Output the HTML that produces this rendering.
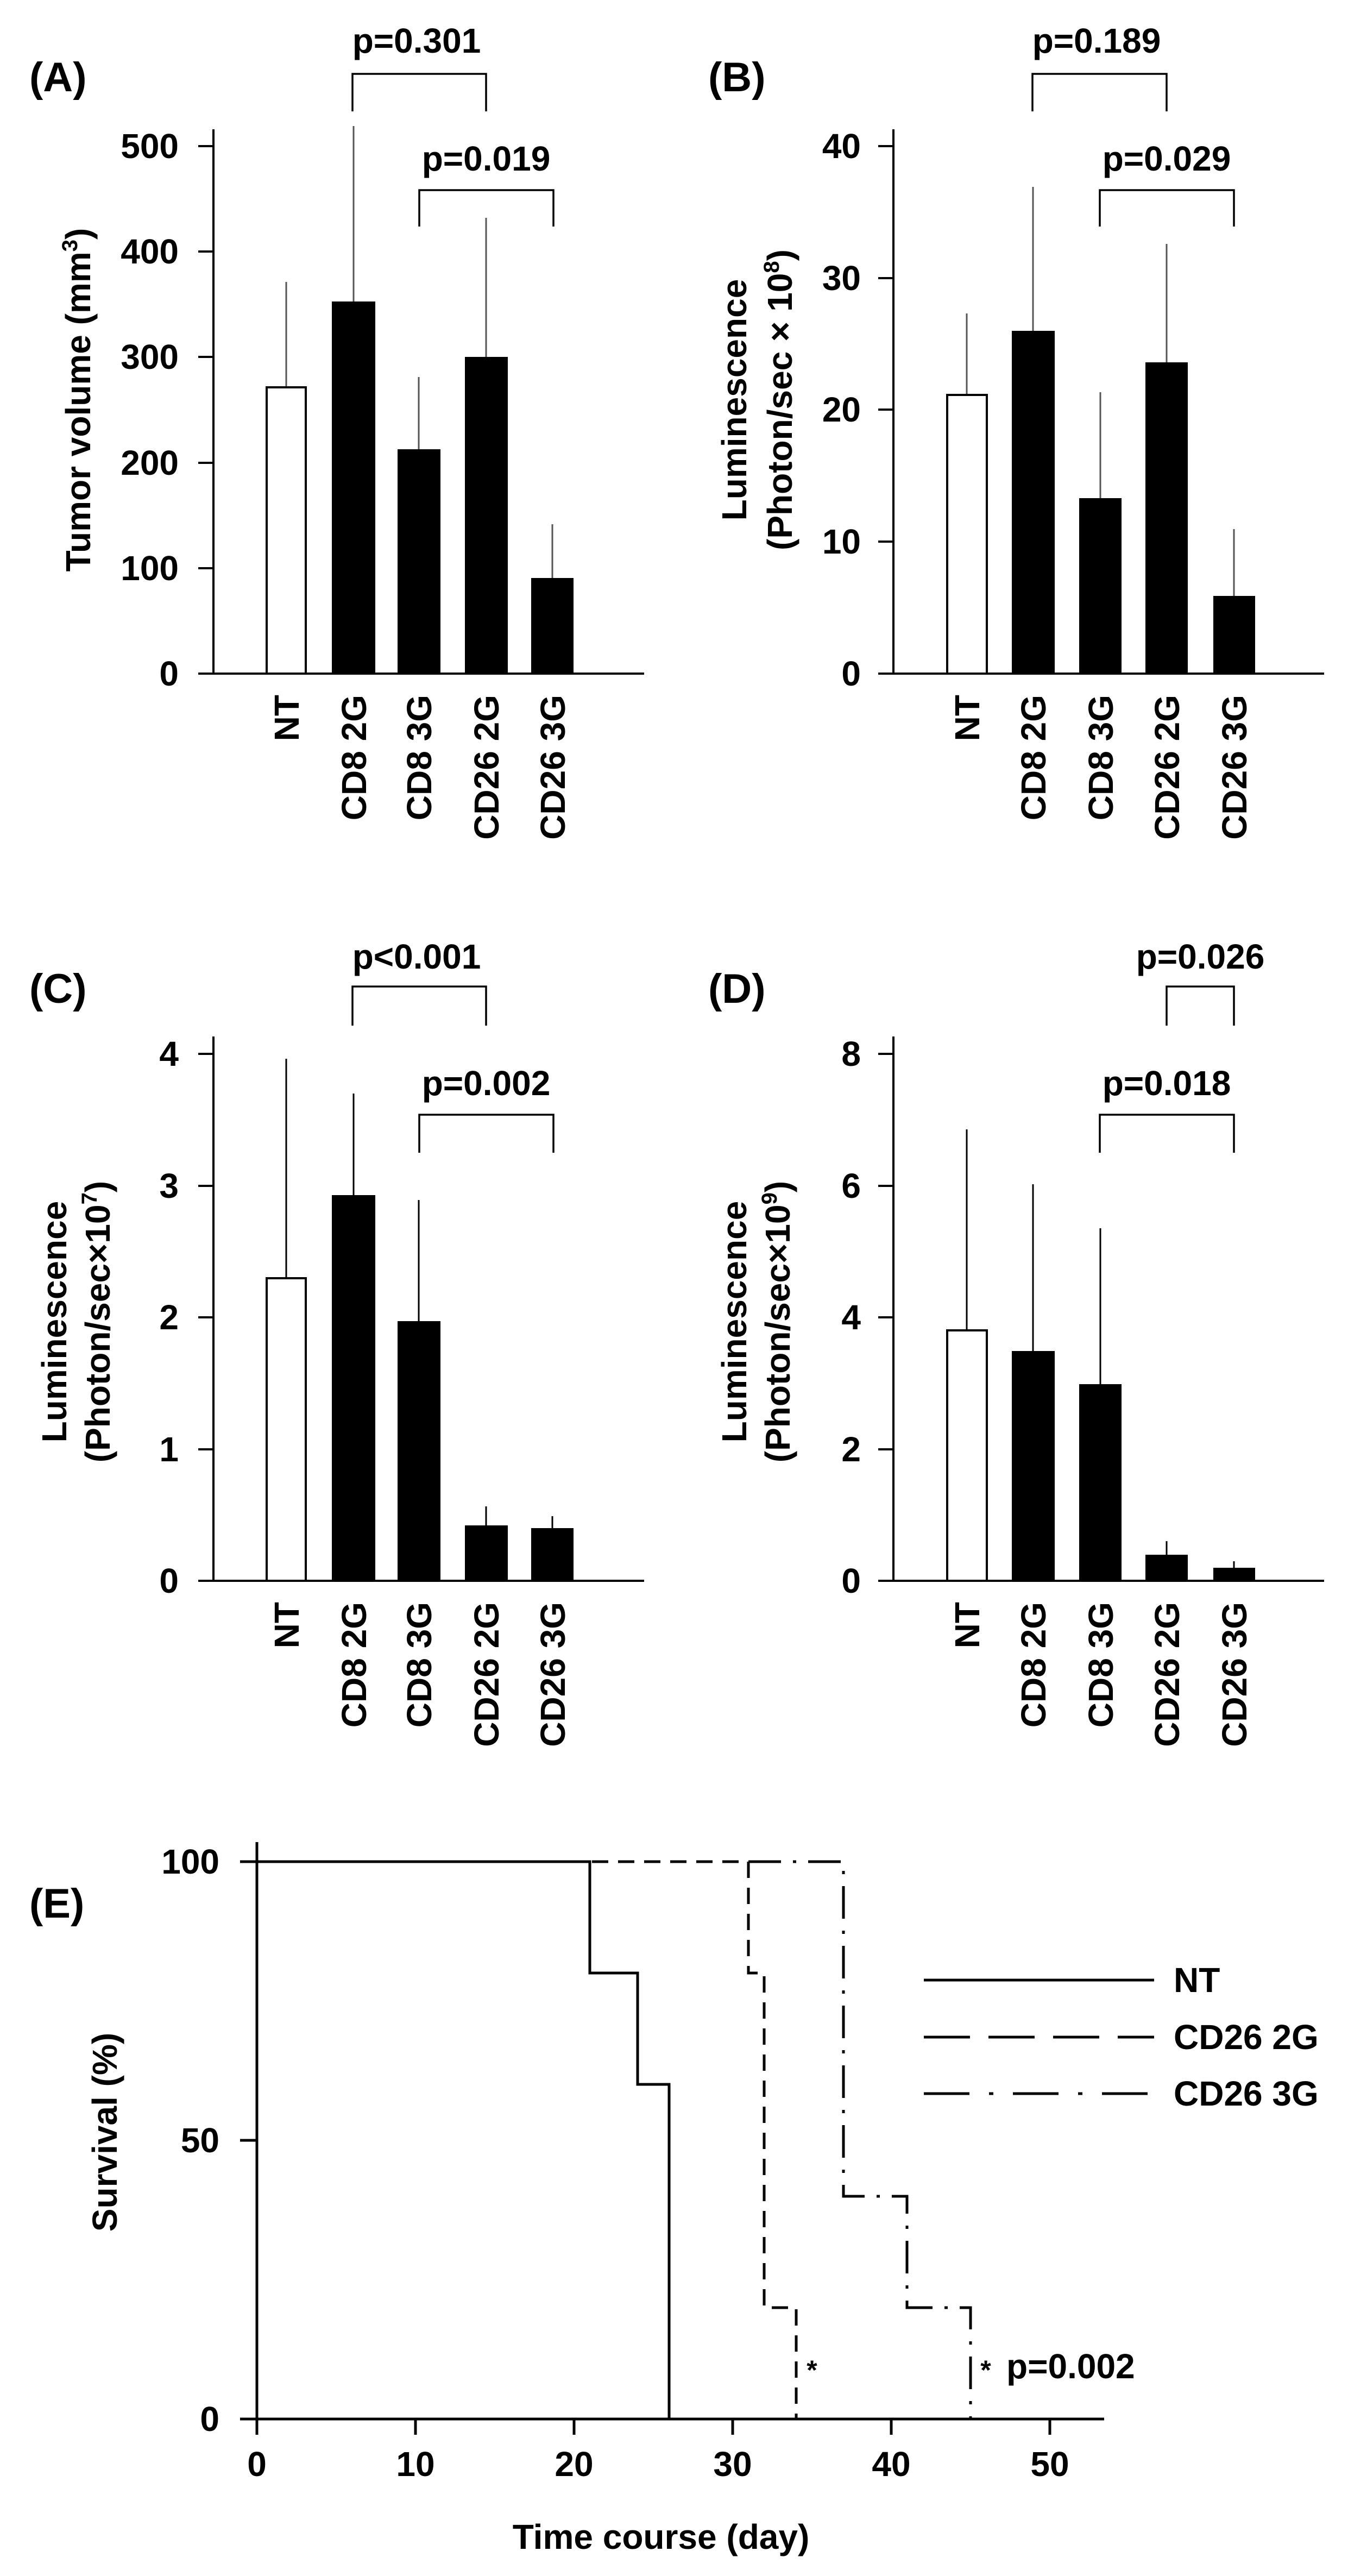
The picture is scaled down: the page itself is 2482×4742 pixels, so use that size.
<!DOCTYPE html>
<html><head><meta charset="utf-8"><style>
html,body{margin:0;padding:0;background:#fff;}
svg{display:block;}
text{font-family:"Liberation Sans",Arial,sans-serif;font-weight:bold;fill:#000;}
</style></head><body>
<svg width="2482" height="4742" viewBox="0 0 2482 4742" xmlns="http://www.w3.org/2000/svg">
<g font-size="64">
<!-- ===== Panel A ===== -->
<text x="54" y="168" font-size="76">(A)</text>
<g stroke="#000" stroke-width="4" fill="none">
<line x1="393" y1="238" x2="393" y2="1242"/>
<line x1="391" y1="1240" x2="1186" y2="1240"/>
<line x1="365" y1="1240" x2="393" y2="1240"/><line x1="365" y1="1046" x2="393" y2="1046"/><line x1="365" y1="852" x2="393" y2="852"/><line x1="365" y1="657" x2="393" y2="657"/><line x1="365" y1="463" x2="393" y2="463"/><line x1="365" y1="269" x2="393" y2="269"/>
<polyline points="649,205 649,136 895,136 895,205" stroke-width="3.5"/>
<polyline points="772,417 772,350 1019,350 1019,417" stroke-width="3.5"/>
</g>
<g text-anchor="end"><text x="329" y="1262">0</text><text x="329" y="1068">100</text><text x="329" y="874">200</text><text x="329" y="679">300</text><text x="329" y="485">400</text><text x="329" y="291">500</text></g>
<text x="767" y="97" text-anchor="middle">p=0.301</text>
<text x="895" y="314" text-anchor="middle">p=0.019</text>
<text transform="translate(166,736) rotate(-90)" text-anchor="middle">Tumor volume (mm<tspan font-size="40" dy="-24">3</tspan><tspan dy="24">)</tspan></text>
<g stroke="#555" stroke-width="3"><line x1="527" y1="519" x2="527" y2="711"/><line x1="651" y1="232" x2="651" y2="555"/><line x1="771" y1="694" x2="771" y2="827"/><line x1="895" y1="401" x2="895" y2="657"/><line x1="1017" y1="965" x2="1017" y2="1064"/></g>
<rect x="491" y="713" width="72" height="527" fill="#fff" stroke="#000" stroke-width="4"/>
<rect x="611" y="555" width="80" height="685"/><rect x="732" y="827" width="79" height="413"/><rect x="856" y="657" width="79" height="583"/><rect x="978" y="1064" width="78" height="176"/>
<g text-anchor="end"><text transform="translate(550,1279) rotate(-90)">NT</text><text transform="translate(674,1279) rotate(-90)">CD8 2G</text><text transform="translate(794,1279) rotate(-90)">CD8 3G</text><text transform="translate(918,1279) rotate(-90)">CD26 2G</text><text transform="translate(1040,1279) rotate(-90)">CD26 3G</text></g>

<!-- ===== Panel B ===== -->
<text x="1304" y="168" font-size="76">(B)</text>
<g stroke="#000" stroke-width="4" fill="none">
<line x1="1645" y1="238" x2="1645" y2="1242"/>
<line x1="1643" y1="1240" x2="2438" y2="1240"/>
<line x1="1617" y1="1240" x2="1645" y2="1240"/><line x1="1617" y1="997" x2="1645" y2="997"/><line x1="1617" y1="754" x2="1645" y2="754"/><line x1="1617" y1="512" x2="1645" y2="512"/><line x1="1617" y1="269" x2="1645" y2="269"/>
<polyline points="1901,205 1901,136 2148,136 2148,205" stroke-width="3.5"/>
<polyline points="2025,417 2025,350 2272,350 2272,417" stroke-width="3.5"/>
</g>
<g text-anchor="end"><text x="1585" y="1262">0</text><text x="1585" y="1019">10</text><text x="1585" y="776">20</text><text x="1585" y="534">30</text><text x="1585" y="291">40</text></g>
<text x="2019" y="97" text-anchor="middle">p=0.189</text>
<text x="2148" y="314" text-anchor="middle">p=0.029</text>
<text transform="translate(1374,736) rotate(-90)" text-anchor="middle">Luminescence</text>
<text transform="translate(1458,736) rotate(-90)" text-anchor="middle">(Photon/sec × 10<tspan font-size="40" dy="-24">8</tspan><tspan dy="24">)</tspan></text>
<g stroke="#555" stroke-width="3"><line x1="1780" y1="577" x2="1780" y2="725"/><line x1="1902" y1="344" x2="1902" y2="609"/><line x1="2026" y1="722" x2="2026" y2="917"/><line x1="2148" y1="449" x2="2148" y2="667"/><line x1="2272" y1="974" x2="2272" y2="1097"/></g>
<rect x="1744" y="727" width="73" height="513" fill="#fff" stroke="#000" stroke-width="4"/>
<rect x="1863" y="609" width="79" height="631"/><rect x="1987" y="917" width="78" height="323"/><rect x="2109" y="667" width="78" height="573"/><rect x="2234" y="1097" width="77" height="143"/>
<g text-anchor="end"><text transform="translate(1803,1279) rotate(-90)">NT</text><text transform="translate(1925,1279) rotate(-90)">CD8 2G</text><text transform="translate(2049,1279) rotate(-90)">CD8 3G</text><text transform="translate(2171,1279) rotate(-90)">CD26 2G</text><text transform="translate(2295,1279) rotate(-90)">CD26 3G</text></g>

<!-- ===== Panel C ===== -->
<text x="54" y="1846" font-size="76">(C)</text>
<g stroke="#000" stroke-width="4" fill="none">
<line x1="393" y1="1908" x2="393" y2="2912"/>
<line x1="391" y1="2910" x2="1186" y2="2910"/>
<line x1="365" y1="2910" x2="393" y2="2910"/><line x1="365" y1="2668" x2="393" y2="2668"/><line x1="365" y1="2425" x2="393" y2="2425"/><line x1="365" y1="2183" x2="393" y2="2183"/><line x1="365" y1="1940" x2="393" y2="1940"/>
<polyline points="649,1888 649,1816 895,1816 895,1888" stroke-width="3.5"/>
<polyline points="772,2122 772,2052 1019,2052 1019,2122" stroke-width="3.5"/>
</g>
<g text-anchor="end"><text x="329" y="2932">0</text><text x="329" y="2690">1</text><text x="329" y="2447">2</text><text x="329" y="2205">3</text><text x="329" y="1962">4</text></g>
<text x="767" y="1783" text-anchor="middle">p&lt;0.001</text>
<text x="895" y="2016" text-anchor="middle">p=0.002</text>
<text transform="translate(122,2433) rotate(-90)" text-anchor="middle">Luminescence</text>
<text transform="translate(202,2433) rotate(-90)" text-anchor="middle">(Photon/sec×10<tspan font-size="40" dy="-24">7</tspan><tspan dy="24">)</tspan></text>
<g stroke="#000" stroke-width="3"><line x1="527" y1="1949" x2="527" y2="2351"/><line x1="651" y1="2013" x2="651" y2="2200"/><line x1="771" y1="2209" x2="771" y2="2432"/><line x1="895" y1="2773" x2="895" y2="2808"/><line x1="1017" y1="2791" x2="1017" y2="2813"/></g>
<rect x="491" y="2353" width="72" height="557" fill="#fff" stroke="#000" stroke-width="4"/>
<rect x="611" y="2200" width="80" height="710"/><rect x="732" y="2432" width="79" height="478"/><rect x="856" y="2808" width="79" height="102"/><rect x="978" y="2813" width="78" height="97"/>
<g text-anchor="end"><text transform="translate(550,2949) rotate(-90)">NT</text><text transform="translate(674,2949) rotate(-90)">CD8 2G</text><text transform="translate(794,2949) rotate(-90)">CD8 3G</text><text transform="translate(918,2949) rotate(-90)">CD26 2G</text><text transform="translate(1040,2949) rotate(-90)">CD26 3G</text></g>

<!-- ===== Panel D ===== -->
<text x="1304" y="1846" font-size="76">(D)</text>
<g stroke="#000" stroke-width="4" fill="none">
<line x1="1645" y1="1908" x2="1645" y2="2912"/>
<line x1="1643" y1="2910" x2="2438" y2="2910"/>
<line x1="1617" y1="2910" x2="1645" y2="2910"/><line x1="1617" y1="2668" x2="1645" y2="2668"/><line x1="1617" y1="2425" x2="1645" y2="2425"/><line x1="1617" y1="2183" x2="1645" y2="2183"/><line x1="1617" y1="1940" x2="1645" y2="1940"/>
<polyline points="2148,1888 2148,1816 2272,1816 2272,1888" stroke-width="3.5"/>
<polyline points="2025,2122 2025,2052 2272,2052 2272,2122" stroke-width="3.5"/>
</g>
<g text-anchor="end"><text x="1585" y="2932">0</text><text x="1585" y="2690">2</text><text x="1585" y="2447">4</text><text x="1585" y="2205">6</text><text x="1585" y="1962">8</text></g>
<text x="2210" y="1783" text-anchor="middle">p=0.026</text>
<text x="2148" y="2016" text-anchor="middle">p=0.018</text>
<text transform="translate(1374,2433) rotate(-90)" text-anchor="middle">Luminescence</text>
<text transform="translate(1454,2433) rotate(-90)" text-anchor="middle">(Photon/sec×10<tspan font-size="40" dy="-24">9</tspan><tspan dy="24">)</tspan></text>
<g stroke="#000" stroke-width="3"><line x1="1780" y1="2079" x2="1780" y2="2447"/><line x1="1902" y1="2180" x2="1902" y2="2487"/><line x1="2026" y1="2261" x2="2026" y2="2548"/><line x1="2148" y1="2837" x2="2148" y2="2862"/><line x1="2272" y1="2874" x2="2272" y2="2886"/></g>
<rect x="1744" y="2449" width="73" height="461" fill="#fff" stroke="#000" stroke-width="4"/>
<rect x="1863" y="2487" width="79" height="423"/><rect x="1987" y="2548" width="78" height="362"/><rect x="2109" y="2862" width="78" height="48"/><rect x="2234" y="2886" width="77" height="24"/>
<g text-anchor="end"><text transform="translate(1803,2949) rotate(-90)">NT</text><text transform="translate(1925,2949) rotate(-90)">CD8 2G</text><text transform="translate(2049,2949) rotate(-90)">CD8 3G</text><text transform="translate(2171,2949) rotate(-90)">CD26 2G</text><text transform="translate(2295,2949) rotate(-90)">CD26 3G</text></g>

<!-- ===== Panel E ===== -->
<text x="54" y="3530" font-size="76">(E)</text>
<g stroke="#000" stroke-width="5" fill="none">
<line x1="473" y1="3391" x2="473" y2="4455"/>
<line x1="471" y1="4453" x2="2033" y2="4453"/>
<line x1="442" y1="4453" x2="473" y2="4453"/><line x1="442" y1="3940" x2="473" y2="3940"/><line x1="442" y1="3427" x2="473" y2="3427"/>
<line x1="473" y1="4453" x2="473" y2="4482"/><line x1="765" y1="4453" x2="765" y2="4482"/><line x1="1057" y1="4453" x2="1057" y2="4482"/><line x1="1349" y1="4453" x2="1349" y2="4482"/><line x1="1641" y1="4453" x2="1641" y2="4482"/><line x1="1933" y1="4453" x2="1933" y2="4482"/>
<!-- NT -->
<polyline points="473,3427 1086,3427 1086,3632 1174,3632 1174,3837 1232,3837 1232,4453"/>
<!-- CD26 2G -->
<polyline points="1090,3427 1378,3427 1378,3632 1407,3632 1407,4248 1466,4248 1466,4453" stroke-dasharray="30 18"/>
<!-- CD26 3G -->
<polyline points="1378,3427 1553,3427 1553,4043 1670,4043 1670,4248 1787,4248 1787,4453" stroke-dasharray="60 22 6 22"/>
<!-- legend -->
<line x1="1701" y1="3645" x2="2125" y2="3645"/>
<line x1="1701" y1="3750" x2="2125" y2="3750" stroke-dasharray="85 34"/>
<line x1="1701" y1="3854" x2="2125" y2="3854" stroke-dasharray="84 36 8 36"/>
</g>
<g text-anchor="end"><text x="404" y="3449">100</text><text x="404" y="3962">50</text><text x="404" y="4475">0</text></g>
<g text-anchor="middle"><text x="473" y="4558">0</text><text x="765" y="4558">10</text><text x="1057" y="4558">20</text><text x="1349" y="4558">30</text><text x="1641" y="4558">40</text><text x="1933" y="4558">50</text></g>
<text x="1217" y="4692" text-anchor="middle">Time course (day)</text>
<text transform="translate(215,3925) rotate(-90)" text-anchor="middle">Survival (%)</text>
<text x="2161" y="3667">NT</text>
<text x="2161" y="3772">CD26 2G</text>
<text x="2161" y="3876">CD26 3G</text>
<text x="1495" y="4380" font-size="50" text-anchor="middle">*</text>
<text x="1815" y="4380" font-size="50" text-anchor="middle">*</text>
<text x="1853" y="4378">p=0.002</text>
</g>
</svg>
</body></html>
